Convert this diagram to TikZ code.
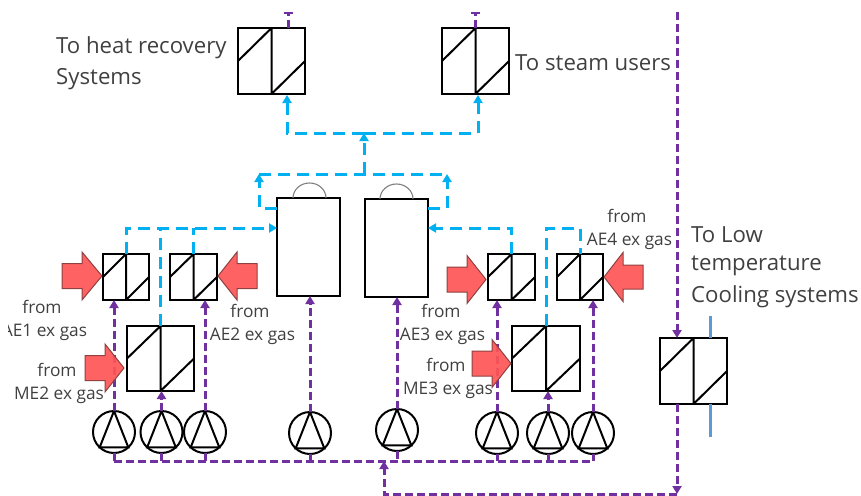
\documentclass[tikz,border=0pt]{standalone}
\usepackage{fontspec}
\setmainfont{Open Sans}
\usetikzlibrary{arrows.meta}
\definecolor{pur}{HTML}{7030A0}
\definecolor{blu}{HTML}{00B0F0}
\definecolor{redf}{HTML}{FF5555}
\definecolor{redd}{HTML}{8F4040}
\definecolor{txt}{HTML}{404040}
\definecolor{ltb}{HTML}{5B9BD5}
\tikzset{
 x=1pt,y=-1pt,
 hx/.style={draw=black,line width=2.2pt,inner sep=0,outer sep=0,rectangle},
 hxin/.style={draw=black,line width=2pt},
 boiler/.style={draw=black,line width=2.2pt,inner sep=0,outer sep=0,rectangle,minimum width=63pt,minimum height=98pt},
 pump/.style={draw=black,line width=2pt,circle,inner sep=0,outer sep=0,minimum size=42pt},
 purl/.style={draw=pur,line width=3pt,dash pattern=on 8pt off 4pt},
 blul/.style={draw=blu,line width=3pt,dash pattern=on 12pt off 7pt},
 tipp/.style={-{Triangle[length=8pt,width=9pt]}},
 redarrow/.style={draw=redd,line width=1pt,fill=redf,fill opacity=.92},
 lbl/.style={text=txt,font=\fontsize{17.3}{20}\selectfont,inner sep=0,anchor=center},
 lbll/.style={text=txt,font=\fontsize{22.2}{26}\selectfont,inner sep=0,anchor=west,yshift=-2pt},
}
\newcommand{\hxdetail}[1]{\draw[hxin] (#1.north)--(#1.south) (#1.north)--(#1.west) (#1.south)--(#1.east);}
\newcommand{\pumpdetail}[1]{\draw[hxin] (#1.north)--(#1.-133)--(#1.-47)--cycle;}
\begin{document}
\begin{tikzpicture}
\useasboundingbox (0,0) rectangle (861,495);
% heat exchangers
\foreach \n/\cx/\cy/\w/\h in {topa/271.5/61/67/66,topb/475.5/61/67/66,
  ae1/126/277/46/46,ae2/193.5/277/47/46,me2/160.5/358.5/67/65,
  ae3/511.5/277/47/46,ae4/580/277/46/46,me3/546/358.5/68/65,lt/693.5/371/67/66}{
  \node[hx,minimum width=\w pt,minimum height=\h pt] (\n) at (\cx,\cy) {};
  \hxdetail{\n}
}
% boilers
\node[boiler] (boa) at (308.5,247) {};
\node[boiler] (bob) at (396.5,248) {};
\draw[gray,line width=1.1pt] (293,198) arc[start angle=180,end angle=0,radius=16.5,y radius=-15];
\draw[gray,line width=1.1pt] (380,199) arc[start angle=180,end angle=0,radius=16.5,y radius=-15];
% pumps
\foreach \n/\cx/\cy in {p1/114/432,p2/161.5/432,p3/205/432,p4/310/433,p5/397/430,p6/497/433,p7/548/433,p8/593/433}{
  \node[pump] (\n) at (\cx,\cy) {};
  \pumpdetail{\n}
}
% coordinates
\coordinate (busl) at (114,461);
\coordinate (busr) at (593,461);
\coordinate (busin) at (384,461);
\coordinate (botl) at (384,494);
\coordinate (botr) at (677,494);
\coordinate (cwtop) at (677,12);
\coordinate (stuba) at (288,12);
\coordinate (stubb) at (475,12);
\coordinate (bla) at (277,228);
\coordinate (blb) at (428,228);
\coordinate (bh) at (259,174);
\coordinate (bi) at (447,174);
\coordinate (bm) at (364,174);
\coordinate (bt) at (364,133);
% purple
\draw[purl] (busl)--(busr);
\foreach \n in {p1,p2,p3,p4,p5,p6,p7,p8}{\draw[purl] (\n.south)--(\n.south |- busl);}
\draw[purl,tipp] (botr)--(botl)--(busin);
\draw[purl,tipp] (lt.south -| botr)--(botr);
\draw[purl,tipp] (cwtop)--(cwtop |- lt.north);
\draw[purl] (topa.north -| stuba)--(stuba);
\draw[purl] (topb.north -| stubb)--(stubb);
\draw[pur,line width=2.4pt] (284,13)--(293,13);
\draw[pur,line width=2.4pt] (471,13)--(480,13);
\draw[purl,tipp] (p1.north)--(p1.north |- ae1.south);
\draw[purl,tipp] (p2.north)--(p2.north |- me2.south);
\draw[purl,tipp] (p3.north)--(p3.north |- ae2.south);
\draw[purl,tipp] (p4.north)--(p4.north |- boa.south);
\draw[purl,tipp] (p5.north)--(p5.north |- bob.south);
\draw[purl,tipp] (p6.north)--(p6.north |- ae3.south);
\draw[purl,tipp] (p7.north)--(p7.north |- me3.south);
\draw[purl,tipp] (p8.north)--(p8.north |- ae4.south);
% blue
\draw[blul,tipp] (ae1.north)|-(bla);
\draw[blul] (me2.north)--(me2.north |- bla);
\draw[blul] (ae2.north)--(ae2.north |- bla);
\draw[blul,tipp] (ae3.north)|-(blb);
\draw[blul] (me3.north)|-(ae4.north |- blb)--(ae4.north);
\draw[blul,tipp] (boa.west |- 0,208)-|(bh);
\draw[blul,tipp] (bob.east |- 0,208)-|(bi);
\draw[blul] (bh)--(bi);
\draw[blul,tipp] (bm)--(bt);
\draw[blul,tipp] (bt)-|(287,95);
\draw[blul,tipp] (bt)-|(478,95);
% red arrows
\foreach \tail/\base/\tip/\cy/\sh/\hh in {62/82/102/276/12.5/24,257/237/218/276/12.5/24,85/105/124/368/12.5/24,447/467/486/279.5/12.5/24,472/492/511/363.5/12.5/24,643/623/604/277/12/24.5}{
  \draw[redarrow] (\tail,\cy-\sh)--(\base,\cy-\sh)--(\base,\cy-\hh)--(\tip,\cy)--(\base,\cy+\hh)--(\base,\cy+\sh)--(\tail,\cy+\sh)--cycle;
}
% cooling water
\draw[ltb,line width=3pt] (lt.north -| 710,0)--(710,316);
\draw[ltb,line width=3pt] (lt.south -| 710,0)--(710,437);
% texts
\node[lbll] (t1) at (56,46) {To heat recovery};
\node[lbll] (t2) at (56,77) {Systems};
\node[lbll] (t3) at (515,61) {To steam users};
\node[lbl] (t4) at (42,307) {from};
\node[lbl] (t5) at (44.5,332) {AE1 ex gas};
\fill[white] (0,322) rectangle (8,342);
\node[lbl] (t6) at (57,370) {from};
\node[lbl] (t7) at (59,395) {ME2 ex gas};
\node[lbl] (t8) at (250,311) {from};
\node[lbl] (t9) at (252.5,336) {AE2 ex gas};
\node[lbl] (t10) at (441,311) {from};
\node[lbl] (t11) at (442.5,336) {AE3 ex gas};
\node[lbl] (t12) at (446,365) {from};
\node[lbl] (t13) at (448,390) {ME3 ex gas};
\node[lbl] (t14) at (627,216) {from};
\node[lbl] (t15) at (629.5,241) {AE4 ex gas};
\node[lbll] (t16) at (691,233) {To Low};
\node[lbll] (t17) at (691,264) {temperature};
\node[lbll] (t18) at (691,295) {Cooling systems};
\end{tikzpicture}
\end{document}
